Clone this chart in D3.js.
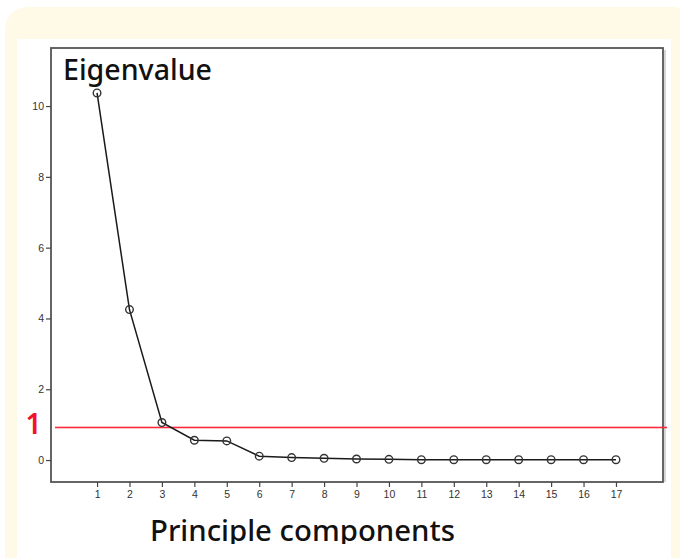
<!DOCTYPE html>
<html>
<head>
<meta charset="utf-8">
<script src="https://cdn.jsdelivr.net/npm/d3@7"></script>
<style>
  body { margin: 0; background: #fff; }
  svg { display: block; }
</style>
</head>
<body>
<div id="chart"></div>
<script>
// scree plot data
var components = [1, 2, 3, 4, 5, 6, 7, 8, 9, 10, 11, 12, 13, 14, 15, 16, 17]
var eigenvalues = [10.37, 4.25, 1.06, 0.56, 0.54, 0.11, 0.07, 0.05, 0.03, 0.02, 0.01, 0.01, 0.01, 0.01, 0.01, 0.01, 0.01]
var yTicks = [0, 2, 4, 6, 8, 10]
var threshold = 0.92
var thresholdLabel = '1'
var yTitle = 'Eigenvalue'
var xTitle = 'Principle components'

var W = 680, H = 558
var frame = { left: 51, top: 48, right: 663, bottom: 482 }

var svg = d3.select('#chart').append('svg')
  .attr('width', W)
  .attr('height', H)

// cream panel + white card
svg.append('rect')
  .attr('x', 5).attr('y', 7)
  .attr('width', 690).attr('height', 600)
  .attr('rx', 22)
  .attr('fill', '#fffae8')
svg.append('rect')
  .attr('x', 17).attr('y', 39)
  .attr('width', 654).attr('height', 530)
  .attr('fill', '#fff')

var x = d3.scaleLinear()
  .domain([-0.42, 18.45])
  .range([frame.left, frame.right])

var y = d3.scaleLinear()
  .domain([-0.62, 11.64])
  .range([frame.bottom, frame.top])

// frame box (with faint shadow on the right)
svg.append('line')
  .attr('x1', frame.right + 2).attr('x2', frame.right + 2)
  .attr('y1', frame.top + 2).attr('y2', frame.bottom)
  .attr('stroke', '#c8c8c8').attr('stroke-width', 1.5)
svg.append('rect')
  .attr('x', frame.left).attr('y', frame.top)
  .attr('width', frame.right - frame.left)
  .attr('height', frame.bottom - frame.top)
  .attr('fill', 'none')
  .attr('stroke', '#555')
  .attr('stroke-width', 1.8)

var yAxis = svg.append('g')
  .attr('transform', 'translate(' + frame.left + ',0)')
  .call(d3.axisLeft(y).tickValues(yTicks).tickSize(5).tickPadding(2))
var xAxis = svg.append('g')
  .attr('transform', 'translate(0,' + frame.bottom + ')')
  .call(d3.axisBottom(x).tickValues(components).tickSize(5).tickPadding(4))

svg.selectAll('.domain').remove()
svg.selectAll('.tick line').attr('stroke', '#444').attr('stroke-width', 1.2)
svg.selectAll('.tick text')
  .attr('fill', '#333')
  .style('font-family', 'Arial, "Liberation Sans", sans-serif')
  .style('font-size', '10.5px')

// red threshold line
svg.append('rect')
  .attr('class', 'threshold')
  .attr('x', frame.left + 4)
  .attr('y', y(threshold) - 0.8)
  .attr('width', frame.right - frame.left)
  .attr('height', 1.6)
  .attr('fill', '#ff2a3c')

svg.append('text')
  .attr('x', 33.5).attr('y', y(threshold) + 7)
  .attr('text-anchor', 'middle')
  .attr('fill', '#f5102a')
  .style('font-family', '"Noto Sans", sans-serif')
  .style('font-size', '28px')
  .style('font-weight', 600)
  .text(thresholdLabel)

var data = components.map(function(c, i) { return { c: c, v: eigenvalues[i] } })

var line = d3.line()
  .x(function(d) { return x(d.c) })
  .y(function(d) { return y(d.v) })

svg.append('path')
  .datum(data)
  .attr('d', line)
  .attr('fill', 'none')
  .attr('stroke', '#1a1a1a')
  .attr('stroke-width', 1.5)

svg.selectAll('.pt')
  .data(data)
  .enter().append('circle')
  .attr('class', 'pt')
  .attr('cx', function(d) { return x(d.c) })
  .attr('cy', function(d) { return y(d.v) })
  .attr('r', 3.8)
  .attr('fill', 'none')
  .attr('stroke', '#333')
  .attr('stroke-width', 1.4)

svg.append('text')
  .attr('x', 63).attr('y', 80)
  .attr('fill', '#111')
  .attr('textLength', 149)
  .attr('lengthAdjust', 'spacingAndGlyphs')
  .style('font-family', '"Noto Sans", sans-serif')
  .style('font-size', '28px')
  .style('font-weight', 500)
  .text(yTitle)

// axis title, bottom clipped as in the original
svg.append('clipPath').attr('id', 'cut')
  .append('rect').attr('x', 0).attr('y', 0).attr('width', W).attr('height', 544)

svg.append('text')
  .attr('x', 150).attr('y', 540.5)
  .attr('clip-path', 'url(#cut)')
  .attr('fill', '#111')
  .attr('textLength', 305)
  .attr('lengthAdjust', 'spacingAndGlyphs')
  .style('font-family', '"Noto Sans", sans-serif')
  .style('font-size', '28px')
  .style('font-weight', 500)
  .text(xTitle)
</script>
</body>
</html>
